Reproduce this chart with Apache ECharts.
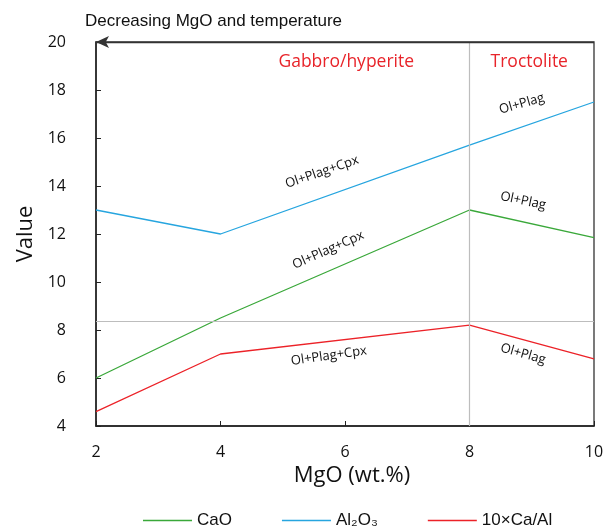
<!DOCTYPE html>
<html>
<head>
<meta charset="utf-8">
<script src="https://cdn.jsdelivr.net/npm/echarts@6/dist/echarts.min.js"></script>
<style>
  html, body { margin: 0; padding: 0; background: #fff; }
  #chart { width: 616px; height: 531px; }
</style>
</head>
<body>
<div id="chart"></div>
<script>
const mgo = [2, 4, 8, 10]
const cao = [6.0, 8.5, 13.0, 11.85]
const al2o3 = [13.0, 12.0, 15.7, 17.5]
const caAl = [4.6, 7.0, 8.2, 6.8]

const seriesNames = ['CaO', 'Al₂O₃', '10×Ca/Al']
const Colors = ['#3aa83a', '#26a5df', '#ec2228']

// boundary between gabbro and troctolite, and the horizontal guide
const boundaryMgO = 8
const guideValue = 8.36

// text notes placed in data coordinates: [x, y, text, rotate, color, size]
const notes = [
  [6.02, 19.17, 'Gabbro/hyperite', 0, '#e8242a', 17.5],
  [8.96, 19.17, 'Troctolite', 0, '#e8242a', 17.5],
  [5.63, 14.58, 'Ol+Plag+Cpx', 19, '#111', 13],
  [8.84, 17.42, 'Ol+Plag', 16, '#111', 13],
  [5.73, 11.33, 'Ol+Plag+Cpx', 24, '#111', 13],
  [8.86, 13.38, 'Ol+Plag', -12, '#111', 13],
  [5.74, 6.92, 'Ol+Plag+Cpx', 8, '#111', 13],
  [8.86, 7.0, 'Ol+Plag', -16, '#111', 13]
]

const chart = echarts.init(document.getElementById('chart'))

const lineData = [cao, al2o3, caAl]
const series = lineData.map((vals, i) => ({
  name: seriesNames[i],
  type: 'line',
  symbol: 'none',
  lineStyle: { width: 1.3, color: Colors[i] },
  itemStyle: { color: Colors[i] },
  data: mgo.map((x, j) => [x, vals[j]])
}))

series.push({
  name: 'notes',
  type: 'scatter',
  symbolSize: 1,
  silent: true,
  z: 5,
  itemStyle: { opacity: 1, color: 'rgba(0,0,0,0)' },
  data: notes.map(n => ({
    value: [n[0], n[1]],
    label: {
      show: true,
      position: 'inside',
      formatter: n[2],
      rotate: n[3],
      color: n[4],
      opacity: 1,
      fontSize: n[5],
      fontFamily: 'Open Sans'
    }
  })),
  markLine: {
    silent: true,
    symbol: 'none',
    label: { show: false },
    lineStyle: { color: '#bdbdbd', width: 1.2, type: 'solid' },
    data: [
      { xAxis: boundaryMgO },
      { yAxis: guideValue },
      [
        { coord: [10, 20], symbol: 'none', lineStyle: { color: '#333', width: 1.3 } },
        { coord: [2, 20], symbol: 'arrow', symbolSize: [9, 13], lineStyle: { color: '#333', width: 1.3 } }
      ]
    ]
  }
})

chart.setOption({
  animation: false,
  title: {
    text: 'Decreasing MgO and temperature',
    left: 80,
    top: 8,
    textStyle: {
      fontFamily: 'Liberation Sans',
      fontSize: 17,
      fontWeight: 'normal',
      color: '#111'
    }
  },
  legend: {
    data: seriesNames,
    left: 138,
    bottom: -3,
    icon: 'rect',
    itemWidth: 49,
    itemHeight: 1.5,
    itemGap: 50,
    textStyle: {
      fontFamily: 'Liberation Sans',
      fontSize: 17,
      color: '#111'
    }
  },
  grid: {
    left: 96,
    right: 22,
    top: 42,
    bottom: 105,
    show: true,
    borderColor: '#333',
    borderWidth: 1.3
  },
  xAxis: {
    type: 'value',
    min: 2,
    max: 10,
    interval: 2,
    name: 'MgO (wt.%)',
    nameLocation: 'middle',
    nameGap: 39,
    nameTextStyle: { fontFamily: 'Open Sans', fontSize: 22, color: '#111', padding: [0, 0, 0, 14] },
    axisLine: { lineStyle: { color: '#222', width: 1.5 } },
    axisTick: { show: true, inside: true, length: 5, lineStyle: { color: '#222', width: 1 } },
    axisLabel: { fontFamily: 'Open Sans', fontSize: 16, color: '#111', margin: 18 },
    splitLine: { show: false }
  },
  yAxis: {
    type: 'value',
    min: 4,
    max: 20,
    interval: 2,
    name: 'Value',
    nameLocation: 'middle',
    nameGap: 56,
    nameTextStyle: { fontFamily: 'Open Sans', fontSize: 22, color: '#111' },
    axisLine: { lineStyle: { color: '#222', width: 1.5 } },
    axisTick: { show: true, inside: true, length: 5, lineStyle: { color: '#222', width: 1 } },
    axisLabel: { fontFamily: 'Open Sans', fontSize: 16, color: '#111', margin: 30 },
    splitLine: { show: false }
  },
  series: series
})
</script>
</body>
</html>
